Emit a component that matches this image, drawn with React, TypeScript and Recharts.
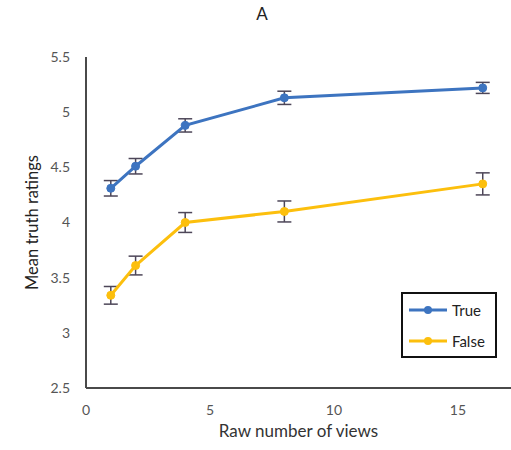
import { LineChart, Line, XAxis, YAxis, ErrorBar } from "recharts";

const views = [1, 2, 4, 8, 16];
const trueMeans = [4.31, 4.51, 4.88, 5.13, 5.22];
const trueErrors = [0.07, 0.07, 0.06, 0.06, 0.05];
const falseMeans = [3.34, 3.61, 4.0, 4.1, 4.35];
const falseErrors = [0.08, 0.085, 0.09, 0.095, 0.1];
const xTicks = [0, 5, 10, 15];
const yTicks = [2.5, 3, 3.5, 4, 4.5, 5, 5.5];
const seriesNames = ["True", "False"];

const rows = views.map((v, i) => ({
  views: v,
  trueMean: trueMeans[i],
  trueErr: trueErrors[i],
  falseMean: falseMeans[i],
  falseErr: falseErrors[i],
}));

const FONT = "Lato, 'Open Sans', sans-serif";
const BLUE = "#3d74c0";
const YELLOW = "#fcbf0d";

function LegendBox() {
  const colors = [BLUE, YELLOW];
  return (
    <div
      style={{
        position: "absolute",
        left: 401,
        top: 292,
        border: "2px solid #111",
        width: 96,
        height: 66,
        boxSizing: "border-box",
        padding: "0 0 0 6px",
        background: "#fff",
        display: "flex",
        flexDirection: "column",
        justifyContent: "space-around",
      }}
    >
      {seriesNames.map((label, i) => (
        <div key={label} style={{ display: "flex", alignItems: "center" }}>
          <svg width={40} height={10}>
            <line x1={0} y1={5} x2={38} y2={5} stroke={colors[i]} strokeWidth={3} />
            <circle cx={19} cy={5} r={4} fill={colors[i]} />
          </svg>
          <span style={{ fontSize: 15, color: "#222", marginLeft: 3 }}>{label}</span>
        </div>
      ))}
    </div>
  );
}

export default function App() {
  return (
    <div style={{ position: "absolute", left: 0, top: 0, width: 511, height: 450, background: "#fff", fontFamily: FONT }}>
      <div
        style={{
          position: "absolute",
          top: 3,
          left: 0,
          width: 524,
          textAlign: "center",
          fontSize: 17,
          color: "#222",
        }}
      >
        A
      </div>
      <LineChart width={511} height={450} data={rows} margin={{ top: 57, right: 0, bottom: 0, left: 36 }}>
        <XAxis
          dataKey="views"
          type="number"
          domain={[0, 17.14]}
          ticks={xTicks}
          allowDataOverflow
          tickLine={false}
          tickMargin={11}
          height={62}
          axisLine={{ stroke: "#4a4a4a", strokeWidth: 2 }}
          tick={{ fontSize: 14, fill: "#555", fontFamily: FONT }}
          label={{ value: "Raw number of views", position: "insideBottom", offset: 13, fontSize: 17, fill: "#333", fontFamily: FONT }}
        />
        <YAxis
          type="number"
          domain={[2.5, 5.5]}
          ticks={yTicks}
          tickLine={false}
          tickMargin={10}
          width={50}
          axisLine={{ stroke: "#4a4a4a", strokeWidth: 2 }}
          tick={{ fontSize: 14, fill: "#555", fontFamily: FONT }}
          label={{
            value: "Mean truth ratings",
            angle: -90,
            position: "insideLeft",
            offset: -4,
            style: { textAnchor: "middle" },
            fontSize: 16.5,
            fill: "#222",
            fontFamily: FONT,
          }}
        />
        <Line
          dataKey="trueMean"
          name="True"
          stroke={BLUE}
          strokeWidth={3}
          dot={{ r: 4, fill: BLUE, stroke: BLUE, strokeWidth: 1 }}
          isAnimationActive={false}
        >
          <ErrorBar dataKey="trueErr" width={7} stroke="#4d4658" strokeWidth={1.5} direction="y" />
        </Line>
        <Line
          dataKey="falseMean"
          name="False"
          stroke={YELLOW}
          strokeWidth={3}
          dot={{ r: 4, fill: YELLOW, stroke: YELLOW, strokeWidth: 1 }}
          isAnimationActive={false}
        >
          <ErrorBar dataKey="falseErr" width={7} stroke="#4d4658" strokeWidth={1.5} direction="y" />
        </Line>
      </LineChart>
      <LegendBox />
    </div>
  );
}
